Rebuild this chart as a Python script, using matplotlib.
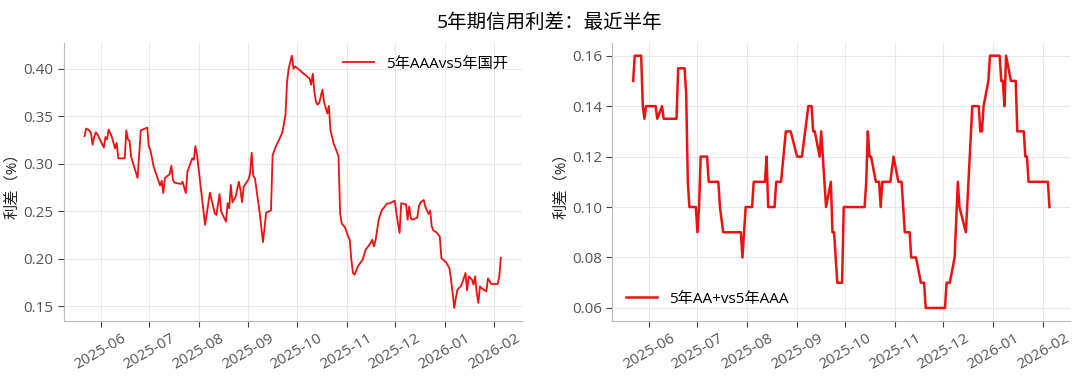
import pandas as pd
import matplotlib
matplotlib.use('Agg')
import matplotlib.pyplot as plt
import matplotlib.dates as mdates
import matplotlib.ticker as mticker

plt.rcParams['font.family'] = ['Open Sans', 'Noto Sans CJK SC', 'DejaVu Sans']

# 5年AAA vs 5年国开
aaa_dates = ['2025-05-22', '2025-05-23', '2025-05-25', '2025-05-26', '2025-05-27', '2025-05-28',
             '2025-05-29', '2025-05-30', '2025-06-03', '2025-06-04', '2025-06-05', '2025-06-06',
             '2025-06-08', '2025-06-10', '2025-06-11', '2025-06-12', '2025-06-16', '2025-06-17',
             '2025-06-18', '2025-06-19', '2025-06-20', '2025-06-24', '2025-06-26', '2025-06-30',
             '2025-07-01', '2025-07-02', '2025-07-04', '2025-07-06', '2025-07-08', '2025-07-09',
             '2025-07-10', '2025-07-11', '2025-07-14', '2025-07-15', '2025-07-16', '2025-07-17',
             '2025-07-21', '2025-07-22', '2025-07-24', '2025-07-25', '2025-07-28', '2025-07-29',
             '2025-07-30', '2025-07-31', '2025-08-05', '2025-08-08', '2025-08-11', '2025-08-12',
             '2025-08-14', '2025-08-15', '2025-08-18', '2025-08-19', '2025-08-20', '2025-08-21',
             '2025-08-22', '2025-08-24', '2025-08-26', '2025-08-27', '2025-08-28', '2025-08-29',
             '2025-09-01', '2025-09-02', '2025-09-03', '2025-09-04', '2025-09-05', '2025-09-08',
             '2025-09-10', '2025-09-12', '2025-09-15', '2025-09-16', '2025-09-18', '2025-09-20',
             '2025-09-22', '2025-09-24', '2025-09-25', '2025-09-26', '2025-09-28', '2025-09-29',
             '2025-09-30', '2025-10-09', '2025-10-10', '2025-10-11', '2025-10-12', '2025-10-13',
             '2025-10-14', '2025-10-15', '2025-10-17', '2025-10-18', '2025-10-20', '2025-10-21',
             '2025-10-22', '2025-10-24', '2025-10-27', '2025-10-28', '2025-10-29', '2025-10-31',
             '2025-11-02', '2025-11-03', '2025-11-04', '2025-11-05', '2025-11-06', '2025-11-08',
             '2025-11-11', '2025-11-13', '2025-11-15', '2025-11-17', '2025-11-18', '2025-11-19',
             '2025-11-21', '2025-11-23', '2025-11-24', '2025-11-26', '2025-11-28', '2025-12-01',
             '2025-12-02', '2025-12-04', '2025-12-05', '2025-12-08', '2025-12-09', '2025-12-10',
             '2025-12-11', '2025-12-12', '2025-12-15', '2025-12-16', '2025-12-17', '2025-12-19',
             '2025-12-20', '2025-12-22', '2025-12-23', '2025-12-24', '2025-12-25', '2025-12-27',
             '2025-12-29', '2025-12-30', '2026-01-02', '2026-01-04', '2026-01-05', '2026-01-06',
             '2026-01-07', '2026-01-08', '2026-01-09', '2026-01-11', '2026-01-12', '2026-01-14',
             '2026-01-15', '2026-01-16', '2026-01-18', '2026-01-19', '2026-01-20', '2026-01-21',
             '2026-01-22', '2026-01-23', '2026-01-24', '2026-01-27', '2026-01-28', '2026-01-30',
             '2026-02-03', '2026-02-04', '2026-02-05']
aaa_vals = [0.329, 0.337, 0.335, 0.332, 0.320, 0.328,
            0.333, 0.331, 0.317, 0.328, 0.3255, 0.336,
            0.328, 0.316, 0.322, 0.3056, 0.3056, 0.335,
            0.3255, 0.324, 0.307, 0.285, 0.335, 0.338,
            0.318, 0.314, 0.297, 0.287, 0.277, 0.282,
            0.269, 0.285, 0.289, 0.298, 0.283, 0.280,
            0.2786, 0.281, 0.269, 0.2915, 0.3056, 0.304,
            0.3185, 0.309, 0.2356, 0.2695, 0.248, 0.246,
            0.268, 0.2496, 0.239, 0.2584, 0.2531, 0.2776,
            0.2594, 0.2653, 0.281, 0.2723, 0.2594, 0.2758,
            0.2835, 0.290, 0.3115, 0.287, 0.2846, 0.248,
            0.2174, 0.2486, 0.2507, 0.309, 0.318, 0.325,
            0.3325, 0.351, 0.386, 0.400, 0.4136, 0.400,
            0.4024, 0.3895, 0.383, 0.3947, 0.3755, 0.365,
            0.362, 0.364, 0.378, 0.365, 0.3528, 0.3608,
            0.3353, 0.3213, 0.308, 0.248, 0.237, 0.2332,
            0.2234, 0.2199, 0.199, 0.185, 0.1832, 0.1919,
            0.199, 0.210, 0.214, 0.220, 0.213, 0.2188,
            0.241, 0.2514, 0.2531, 0.2577, 0.2584, 0.2611,
            0.248, 0.227, 0.2584, 0.2573, 0.241, 0.2549,
            0.2426, 0.241, 0.2433, 0.2549, 0.2591, 0.2618,
            0.2549, 0.2472, 0.2507, 0.234, 0.2297, 0.2276,
            0.2234, 0.2007, 0.196, 0.190, 0.178, 0.164,
            0.1482, 0.1587, 0.1674, 0.1709, 0.1744, 0.185,
            0.1667, 0.1814, 0.178, 0.1727, 0.1814, 0.164,
            0.1535, 0.171, 0.169, 0.1657, 0.1793, 0.1734,
            0.1734, 0.1807, 0.201]

# 5年AA+ vs 5年AAA
aa_dates = ['2025-05-22', '2025-05-23', '2025-05-27', '2025-05-28', '2025-05-29', '2025-05-30',
            '2025-06-05', '2025-06-06', '2025-06-09', '2025-06-10', '2025-06-18', '2025-06-19',
            '2025-06-23', '2025-06-24', '2025-06-25', '2025-06-26', '2025-06-30', '2025-07-01',
            '2025-07-02', '2025-07-03', '2025-07-07', '2025-07-08', '2025-07-14', '2025-07-15',
            '2025-07-17', '2025-07-28', '2025-07-29', '2025-07-30', '2025-07-31', '2025-08-04',
            '2025-08-05', '2025-08-12', '2025-08-13', '2025-08-14', '2025-08-18', '2025-08-19',
            '2025-08-22', '2025-08-25', '2025-08-28', '2025-09-01', '2025-09-04', '2025-09-08',
            '2025-09-10', '2025-09-11', '2025-09-12', '2025-09-15', '2025-09-16', '2025-09-19',
            '2025-09-22', '2025-09-23', '2025-09-24', '2025-09-26', '2025-09-29', '2025-09-30',
            '2025-10-13', '2025-10-14', '2025-10-15', '2025-10-16', '2025-10-17', '2025-10-20',
            '2025-10-22', '2025-10-23', '2025-10-24', '2025-10-29', '2025-10-31', '2025-11-03',
            '2025-11-05', '2025-11-07', '2025-11-10', '2025-11-11', '2025-11-14', '2025-11-17',
            '2025-11-19', '2025-11-20', '2025-12-02', '2025-12-03', '2025-12-05', '2025-12-08',
            '2025-12-10', '2025-12-11', '2025-12-15', '2025-12-17', '2025-12-19', '2025-12-23',
            '2025-12-24', '2025-12-25', '2025-12-26', '2025-12-29', '2025-12-30', '2026-01-05',
            '2026-01-06', '2026-01-07', '2026-01-08', '2026-01-09', '2026-01-12', '2026-01-15',
            '2026-01-16', '2026-01-20', '2026-01-21', '2026-01-22', '2026-01-23', '2026-02-04',
            '2026-02-05']
aa_vals = [0.15, 0.16, 0.16, 0.14, 0.135, 0.14,
           0.14, 0.135, 0.14, 0.135, 0.135, 0.155,
           0.155, 0.145, 0.11, 0.10, 0.10, 0.09,
           0.10, 0.12, 0.12, 0.11, 0.11, 0.10,
           0.09, 0.09, 0.08, 0.09, 0.10, 0.10,
           0.11, 0.11, 0.12, 0.10, 0.10, 0.11,
           0.11, 0.13, 0.13, 0.12, 0.12, 0.14,
           0.14, 0.13, 0.13, 0.12, 0.13, 0.10,
           0.11, 0.09, 0.09, 0.07, 0.07, 0.10,
           0.10, 0.11, 0.13, 0.12, 0.12, 0.11,
           0.11, 0.10, 0.11, 0.11, 0.12, 0.11,
           0.11, 0.09, 0.09, 0.08, 0.08, 0.07,
           0.07, 0.06, 0.06, 0.07, 0.07, 0.08,
           0.11, 0.10, 0.09, 0.115, 0.14, 0.14,
           0.13, 0.13, 0.14, 0.15, 0.16, 0.16,
           0.15, 0.15, 0.14, 0.16, 0.15, 0.15,
           0.13, 0.13, 0.12, 0.12, 0.11, 0.11,
           0.10]

series = [
    (aaa_dates, aaa_vals, '5年AAAvs5年国开', 1.3, 'upper right'),
    (aa_dates, aa_vals, '5年AA+vs5年AAA', 1.8, 'lower left'),
]

fig, axes = plt.subplots(1, 2, figsize=(10.8, 3.78), dpi=100)
fig.subplots_adjust(left=0.059, right=0.991, bottom=0.152, top=0.886, wspace=0.198)

for ax, (d, v, name, lw, loc) in zip(axes, series):
    ax.plot(pd.to_datetime(d), v, color='#ee1111', lw=lw, label=name)
    ax.set_ylabel('利差（%）', fontsize=11, color='#222222', labelpad=2)
    ax.grid(True, color='#e8e8e8', lw=0.8)
    ax.set_axisbelow(True)
    for s in ['top', 'right']:
        ax.spines[s].set_visible(False)
    for s in ['left', 'bottom']:
        ax.spines[s].set_color('#bbbbbb')
    ax.tick_params(labelsize=11, labelcolor='#555555', color='#444444', length=4)
    ax.xaxis.set_major_locator(mdates.MonthLocator())
    ax.xaxis.set_major_formatter(mdates.DateFormatter('%Y-%m'))
    plt.setp(ax.get_xticklabels(), rotation=30)
    ax.legend(loc=loc, frameon=False, fontsize=11)

axes[0].set_yticks([0.15, 0.20, 0.25, 0.30, 0.35, 0.40])
axes[1].set_yticks([0.06, 0.08, 0.10, 0.12, 0.14, 0.16])
for ax in axes:
    ax.yaxis.set_major_formatter(mticker.FormatStrFormatter('%.2f'))

fig.suptitle('5年期信用利差：最近半年', fontsize=14, x=0.509, y=0.965)
fig.savefig('out.png')
